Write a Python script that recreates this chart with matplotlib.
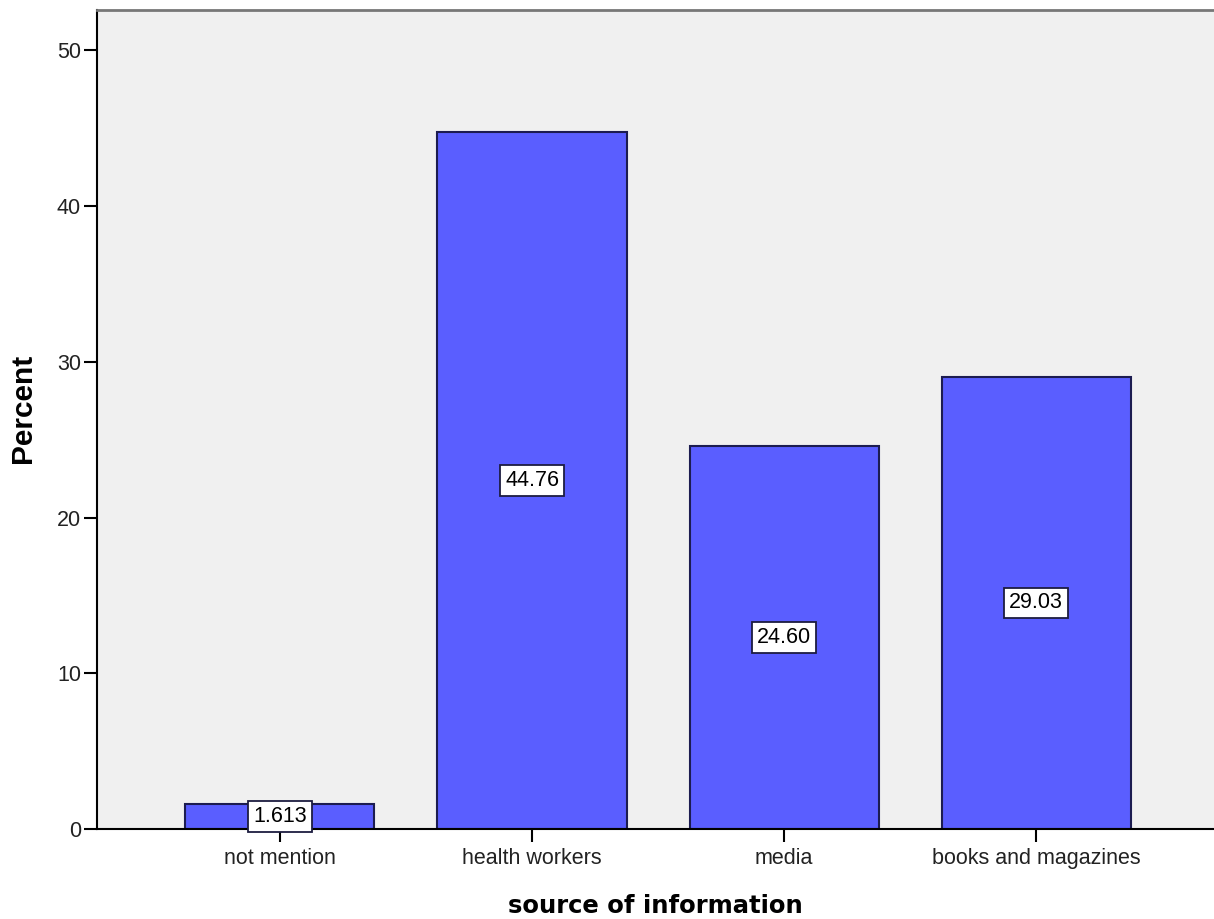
import matplotlib.pyplot as plt

# data
categories = ['not mention', 'health workers', 'media', 'books and magazines']
percent = [1.613, 44.76, 24.60, 29.03]
value_labels = ['1.613', '44.76', '24.60', '29.03']


def gerar_plot():
    fig = plt.figure(figsize=(12.14, 9.19), dpi=100)
    ax = fig.add_axes([97 / 1214, 1 - 829 / 919, 1 - 97 / 1214, (829 - 10) / 919])
    ax.set_facecolor('#f0f0f0')

    x = range(len(categories))
    ax.bar(x, percent, width=0.75, color='#5a5eff', edgecolor='#1c1c50', linewidth=1.5, zorder=2)

    # rotulos no meio das barras
    for xi, v, lab in zip(x, percent, value_labels):
        ax.text(xi, v / 2, lab, ha='center', va='center', fontsize=15.5,
                family='Liberation Sans', color='black', zorder=4,
                bbox=dict(boxstyle='square,pad=0.22', facecolor='white',
                          edgecolor='#1c1c40', linewidth=1.3))

    ax.set_xlim(-0.726, 3.706)
    ax.set_ylim(0, 52.6)
    ax.set_xticks(list(x))
    ax.set_xticklabels(categories, fontsize=15.5, family='Liberation Sans', color='#222222')
    ax.set_yticks([0, 10, 20, 30, 40, 50])
    ax.tick_params(axis='y', labelsize=15.5, labelcolor='#222222', length=9.5, width=1.5, pad=2)
    ax.tick_params(axis='x', length=9, width=1.5, pad=5)
    for lab in ax.get_yticklabels():
        lab.set_family('Liberation Sans')

    ax.spines['left'].set_linewidth(1.5)
    ax.spines['bottom'].set_linewidth(1.5)
    ax.spines['top'].set_color('#777777')
    ax.spines['top'].set_linewidth(2)
    ax.spines['right'].set_visible(False)

    ax.set_ylabel('Percent', fontsize=21.5, fontweight='bold', family='Liberation Sans')
    ax.yaxis.set_label_coords(-0.054, 0.513)
    ax.set_xlabel('source of information', fontsize=17.5, fontweight='bold', family='DejaVu Sans', labelpad=18)

    fig.savefig('out.png', dpi=100)


gerar_plot()
